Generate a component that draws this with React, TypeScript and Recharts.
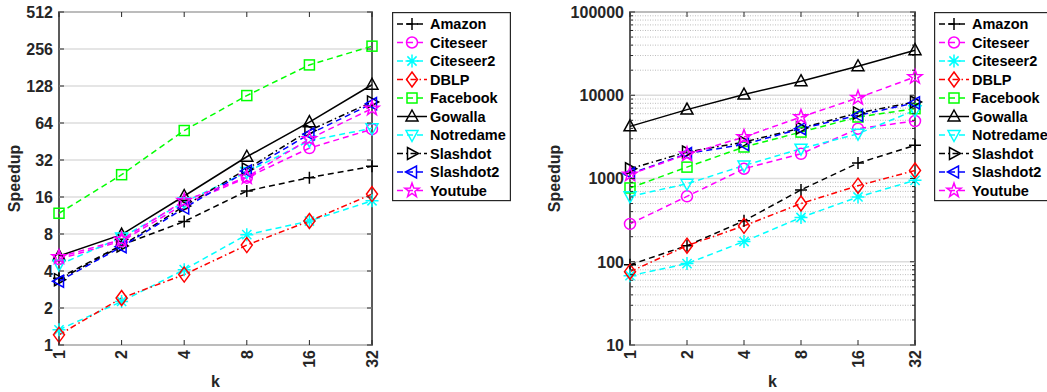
import React from 'react';
import { LineChart, Line, XAxis, YAxis, ReferenceLine, ReferenceArea, Legend, Label } from 'recharts';

const K = ['1', '2', '4', '8', '16', '32'];

// left panel (log2 axis)
const amazonA = [3.5, 6.5, 10.1, 17.9, 23, 28.4];
const citeseerA = [5.0, 7.0, 14, 23, 40, 57];
const citeseer2A = [1.33, 2.26, 4.1, 7.9, 10.2, 14.9];
const dblpA = [1.21, 2.41, 3.74, 6.5, 10.2, 16.9];
const facebookA = [11.8, 24.3, 55.6, 107, 190, 270];
const gowallaA = [5.3, 7.9, 16.3, 34, 65, 131];
const notredameA = [4.5, 7.5, 14.5, 25.5, 46, 58];
const slashdotA = [3.4, 6.4, 13.5, 27, 55.6, 95];
const slashdot2A = [3.3, 6.3, 13, 26, 52, 92];
const youtubeA = [5.2, 7.2, 14.9, 23.2, 47.5, 84];

// right panel (log10 axis)
const amazonB = [92, 156, 310, 730, 1530, 2500];
const citeseerB = [285, 610, 1310, 1980, 3970, 4900];
const citeseer2B = [68, 95, 175, 340, 600, 950];
const dblpB = [76, 156, 270, 500, 820, 1250];
const facebookB = [770, 1370, 2390, 3610, 5480, 6900];
const gowallaB = [4230, 6720, 10200, 14750, 22300, 34800];
const notredameB = [610, 865, 1430, 2280, 3450, 6600];
const slashdotB = [1310, 2080, 2740, 4040, 6130, 8300];
const slashdot2B = [1140, 1990, 2570, 3970, 5740, 8100];
const youtubeB = [1120, 1950, 3150, 5480, 9300, 16600];

const TICKS_A = [1, 2, 4, 8, 16, 32, 64, 128, 256, 512];
const MAJOR_B = [10, 100, 1000, 10000, 100000];
const MINOR_B = [
  20, 30, 40, 50, 60, 70, 80, 90,
  200, 300, 400, 500, 600, 700, 800, 900,
  2000, 3000, 4000, 5000, 6000, 7000, 8000, 9000,
  20000, 30000, 40000, 50000, 60000, 70000, 80000, 90000,
];

type Shape = 'plus' | 'circle' | 'asterisk' | 'diamond' | 'square' | 'up' | 'down' | 'right' | 'left' | 'star';

const DASH = '6 4';
const DASHDOT = '6 3 1.5 3';

const STYLE: { name: string; color: string; dash?: string; shape: Shape }[] = [
  { name: 'Amazon', color: '#000000', dash: DASH, shape: 'plus' },
  { name: 'Citeseer', color: '#ff00ff', dash: DASH, shape: 'circle' },
  { name: 'Citeseer2', color: '#00ffff', dash: DASH, shape: 'asterisk' },
  { name: 'DBLP', color: '#ff0000', dash: DASHDOT, shape: 'diamond' },
  { name: 'Facebook', color: '#00ff00', dash: DASH, shape: 'square' },
  { name: 'Gowalla', color: '#000000', shape: 'up' },
  { name: 'Notredame', color: '#00ffff', dash: DASH, shape: 'down' },
  { name: 'Slashdot', color: '#000000', dash: DASHDOT, shape: 'right' },
  { name: 'Slashdot2', color: '#0000ff', dash: DASH, shape: 'left' },
  { name: 'Youtube', color: '#ff00ff', dash: DASH, shape: 'star' },
];

const SERIES_A = [amazonA, citeseerA, citeseer2A, dblpA, facebookA, gowallaA, notredameA, slashdotA, slashdot2A, youtubeA];
const SERIES_B = [amazonB, citeseerB, citeseer2B, dblpB, facebookB, gowallaB, notredameB, slashdotB, slashdot2B, youtubeB];

const toRows = (series: number[][]) =>
  K.map((k, i) => {
    const r: Record<string, string | number> = { k };
    STYLE.forEach((s, j) => { r[s.name] = series[j][i]; });
    return r;
  });

const FONT = '"Liberation Sans", Arial, Helvetica, sans-serif';
const AX = '#262626';
const H = 392;
const TOP = 12;
const BOTTOM = 345;

function Marker({ cx, cy, shape, color }: { cx: number; cy: number; shape: Shape; color: string }) {
  const st = { fill: 'none', stroke: color, strokeWidth: 1.5 };
  switch (shape) {
    case 'plus':
      return <path d={`M${cx - 6},${cy}H${cx + 6}M${cx},${cy - 6}V${cy + 6}`} {...st} />;
    case 'circle':
      return <circle cx={cx} cy={cy} r={5.5} {...st} />;
    case 'asterisk': {
      const d = 4.6;
      return <path d={`M${cx - 6.5},${cy}H${cx + 6.5}M${cx},${cy - 6.5}V${cy + 6.5}M${cx - d},${cy - d}L${cx + d},${cy + d}M${cx - d},${cy + d}L${cx + d},${cy - d}`} {...st} />;
    }
    case 'diamond':
      return <path d={`M${cx},${cy - 7.5}L${cx + 5.5},${cy}L${cx},${cy + 7.5}L${cx - 5.5},${cy}Z`} {...st} />;
    case 'square':
      return <rect x={cx - 5} y={cy - 5} width={10} height={10} {...st} />;
    case 'up':
      return <path d={`M${cx},${cy - 6.5}L${cx + 6},${cy + 4.5}L${cx - 6},${cy + 4.5}Z`} {...st} />;
    case 'down':
      return <path d={`M${cx},${cy + 6.5}L${cx + 6},${cy - 4.5}L${cx - 6},${cy - 4.5}Z`} {...st} />;
    case 'right':
      return <path d={`M${cx + 6.5},${cy}L${cx - 4.5},${cy - 6}L${cx - 4.5},${cy + 6}Z`} {...st} />;
    case 'left':
      return <path d={`M${cx - 6.5},${cy}L${cx + 4.5},${cy - 6}L${cx + 4.5},${cy + 6}Z`} {...st} />;
    case 'star': {
      const pts: string[] = [];
      for (let i = 0; i < 10; i++) {
        const r = i % 2 === 0 ? 7.5 : 3;
        const a = -Math.PI / 2 + (i * Math.PI) / 5;
        pts.push(`${cx + r * Math.cos(a)},${cy + r * Math.sin(a)}`);
      }
      return <polygon points={pts.join(' ')} {...st} />;
    }
  }
  return null;
}

function LegendBox({ width }: { width: number }) {
  return (
    <svg width={width} height={190} style={{ display: 'block', overflow: 'visible' }}>
      <rect x={0.6} y={0.6} width={width - 1.2} height={188} fill="#fff" stroke={AX} strokeWidth={1.2} />
      {STYLE.map((s, i) => {
        const cy = 12 + i * 18.5;
        return (
          <g key={s.name}>
            <line x1={5} x2={35} y1={cy} y2={cy} stroke={s.color} strokeWidth={1.5} strokeDasharray={s.dash} />
            <Marker cx={20} cy={cy} shape={s.shape} color={s.color} />
            <text x={38} y={cy} dy="0.36em" fontSize={14.5} fontWeight="bold" fontFamily={FONT} fill="#000">
              {s.name}
            </text>
          </g>
        );
      })}
    </svg>
  );
}

interface PanelProps {
  rows: Record<string, string | number>[];
  domain: [number, number];
  majors: number[];
  minors: number[];
  x: number;
  width: number;
  plotLeft: number;
  plotRight: number;
  legendX: number;
  legendW: number;
  ylabelX: number;
}

function Panel(p: PanelProps) {
  const allTicks = [...p.majors, ...p.minors].sort((a, b) => a - b);
  const midX = (p.plotLeft + p.plotRight) / 2;
  const midY = (TOP + BOTTOM) / 2;

  const yTick = (props: any) => {
    const { y, payload } = props;
    const v = payload.value as number;
    const major = p.majors.includes(v);
    const len = major ? 5 : 3;
    return (
      <g>
        <line x1={p.plotLeft} x2={p.plotLeft + len} y1={y} y2={y} stroke={AX} strokeWidth={1} />
        <line x1={p.plotRight - len} x2={p.plotRight} y1={y} y2={y} stroke={AX} strokeWidth={1} />
        {major && (
          <text x={p.plotLeft - 6} y={y} dy="0.36em" textAnchor="end" fontSize={16} fontWeight="bold" fontFamily={FONT} fill={AX}>
            {v}
          </text>
        )}
      </g>
    );
  };

  const xTick = (props: any) => {
    const { x, payload } = props;
    const ty = BOTTOM + 5;
    return (
      <g>
        <line x1={x} x2={x} y1={BOTTOM} y2={BOTTOM - 5} stroke={AX} strokeWidth={1} />
        <line x1={x} x2={x} y1={TOP} y2={TOP + 5} stroke={AX} strokeWidth={1} />
        <text x={x} y={ty} dy="0.36em" transform={`rotate(-90 ${x} ${ty})`} textAnchor="end" fontSize={16} fontWeight="bold" fontFamily={FONT} fill={AX}>
          {payload.value}
        </text>
      </g>
    );
  };

  return (
    <div style={{ position: 'absolute', left: p.x, top: 0 }}>
      <LineChart
        width={p.width}
        height={H}
        data={p.rows}
        margin={{ top: TOP, right: p.width - p.plotRight, bottom: H - BOTTOM - 40, left: p.plotLeft - 50 }}
      >
        {p.minors.map((v) => (
          <ReferenceLine key={'m' + v} y={v} stroke="#bdbdbd" strokeDasharray="1 1.5" strokeWidth={1} />
        ))}
        {p.majors.map((v) => (
          <ReferenceLine key={'M' + v} y={v} stroke="#dcdcdc" strokeWidth={1.5} />
        ))}
        <XAxis dataKey="k" interval={0} tick={xTick} tickLine={false} axisLine={false} height={40}>
          <Label
            content={() => (
              <text x={midX} y={387} textAnchor="middle" fontSize={16} fontWeight="bold" fontFamily={FONT} fill={AX}>
                k
              </text>
            )}
          />
        </XAxis>
        <YAxis
          type="number"
          scale="log"
          domain={p.domain}
          ticks={allTicks}
          interval={0}
          tick={yTick}
          tickLine={false}
          axisLine={false}
          width={50}
        >
          <Label
            content={() => (
              <text
                x={p.ylabelX}
                y={midY}
                dy="0.36em"
                transform={`rotate(-90 ${p.ylabelX} ${midY})`}
                textAnchor="middle"
                fontSize={16}
                fontWeight="bold"
                fontFamily={FONT}
                fill={AX}
              >
                Speedup
              </text>
            )}
          />
        </YAxis>
        <ReferenceArea y1={p.domain[0]} y2={p.domain[1]} fill="none" fillOpacity={0} stroke={AX} strokeWidth={1.5} />
        {STYLE.map((s) => (
          <Line
            key={s.name}
            type="linear"
            dataKey={s.name}
            stroke={s.color}
            strokeWidth={1.5}
            strokeDasharray={s.dash}
            activeDot={false}
            isAnimationActive={false}
            dot={(d: any) => (
              <Marker key={`${s.name}-${d.index}`} cx={d.cx} cy={d.cy} shape={s.shape} color={s.color} />
            )}
          />
        ))}
        <Legend
          layout="vertical"
          align="center"
          verticalAlign="middle"
          wrapperStyle={{ left: p.legendX, top: TOP, width: p.legendW, height: 190, margin: 0 }}
          content={() => <LegendBox width={p.legendW} />}
        />
      </LineChart>
    </div>
  );
}

export default function App() {
  const rowsA = toRows(SERIES_A);
  const rowsB = toRows(SERIES_B);
  return (
    <div style={{ position: 'absolute', left: 0, top: 0, width: 1047, height: H, overflow: 'hidden', background: '#fff' }}>
      <Panel
        rows={rowsA}
        domain={[1, 512]}
        majors={TICKS_A}
        minors={[]}
        x={0}
        width={530}
        plotLeft={59}
        plotRight={372}
        legendX={392}
        legendW={119}
        ylabelX={14}
      />
      <Panel
        rows={rowsB}
        domain={[10, 100000]}
        majors={MAJOR_B}
        minors={MINOR_B}
        x={530}
        width={517}
        plotLeft={100}
        plotRight={385}
        legendX={404}
        legendW={125}
        ylabelX={24}
      />
    </div>
  );
}
